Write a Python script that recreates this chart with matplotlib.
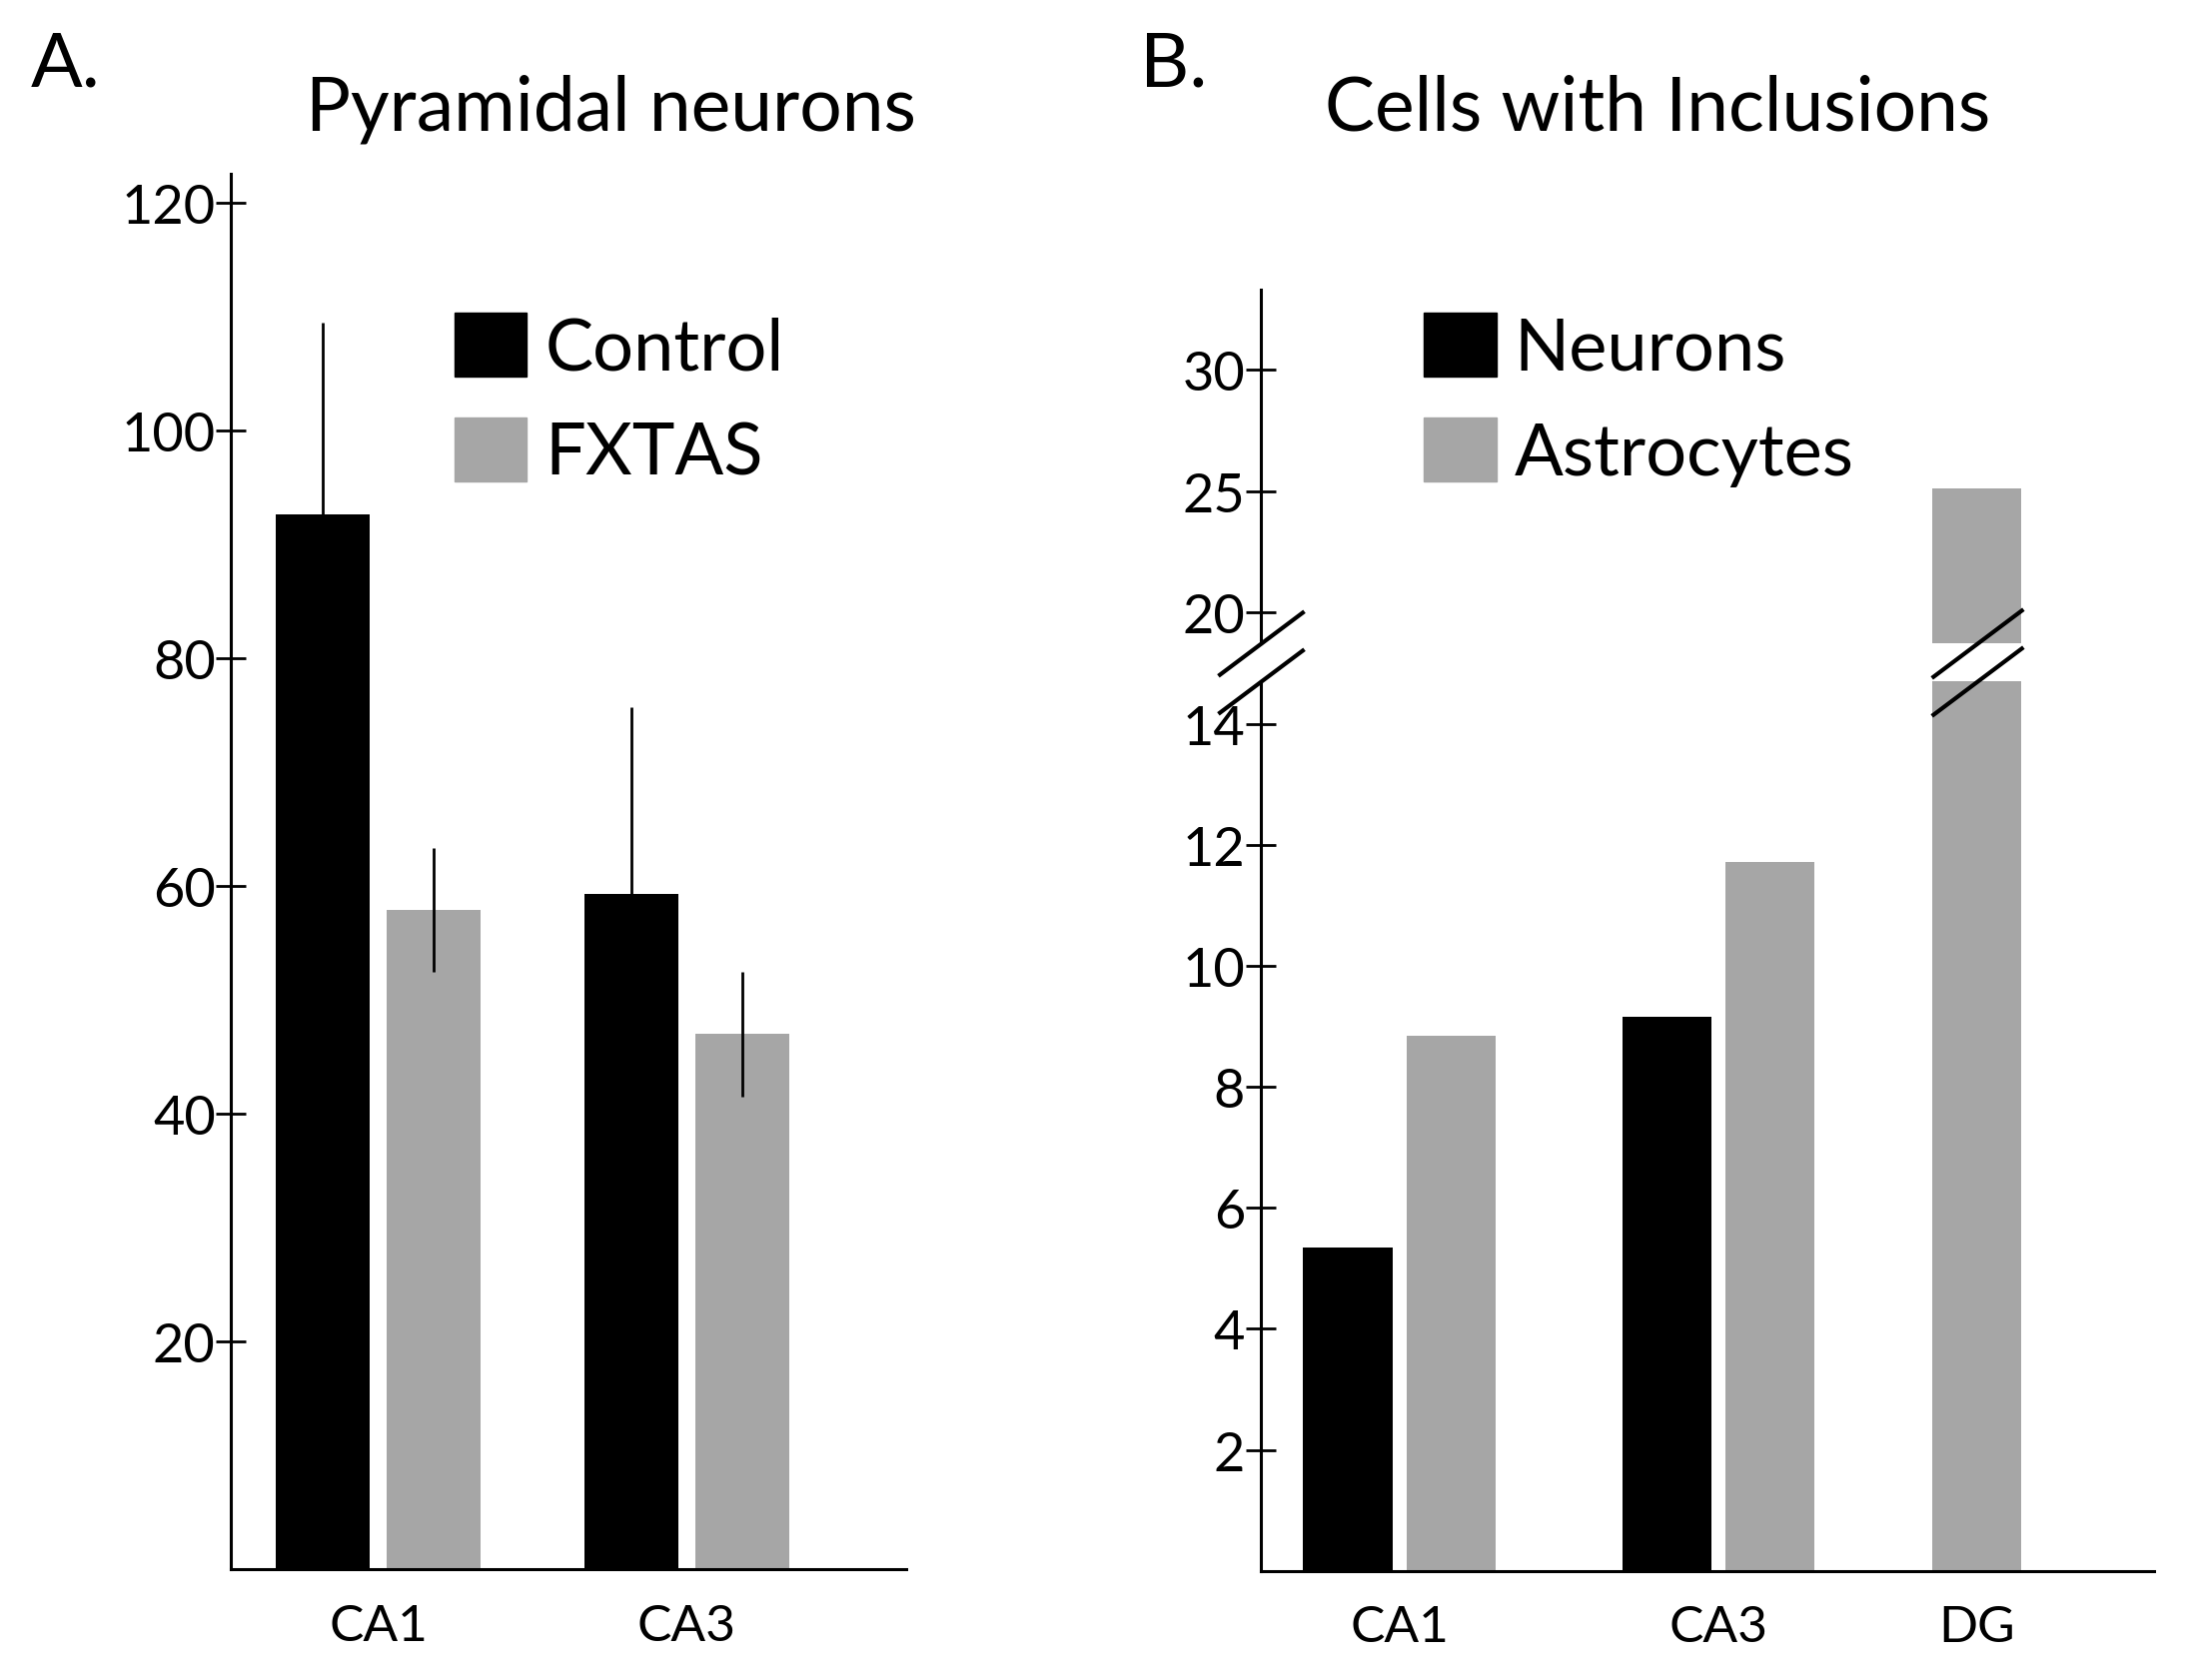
import matplotlib
matplotlib.use('Agg')
import matplotlib.pyplot as plt
from matplotlib.patches import Patch
import numpy as np

# panel A - pyramidal neuron counts
regions_a = ['CA1', 'CA3']
control = [92.6, 59.3]
control_err = [16.8, 16.4]
fxtas = [57.9, 47.0]
fxtas_err = [5.4, 5.5]

# panel B - cells with inclusions
regions_b = ['CA1', 'CA3', 'DG']
neurons = [5.35, 9.15]
astrocytes = [8.85, 11.72, 25.1]

BLACK = '#000000'
GRAY = '#a6a6a6'

# reference measured on a ~1567 x 1202 frame
W, H = 1567, 1202
def fx(x):
    return x / W
def fy(y):
    return 1 - y / H

plt.rcParams['font.family'] = ['Lato', 'DejaVu Sans']

fig = plt.figure(figsize=(21.94, 16.83), dpi=100)

def style_axis(ax):
    for s in ['top', 'right']:
        ax.spines[s].set_visible(False)
    for s in ['left', 'bottom']:
        ax.spines[s].set_linewidth(2.2)
    ax.tick_params(axis='y', direction='inout', length=22, width=2, pad=0, labelsize=39)
    ax.tick_params(axis='x', length=0, pad=24, labelsize=37)

# ---------------- Panel A ----------------
ax_a = fig.add_axes([fx(165), fy(1123), fx(648) - fx(165), fy(125) - fy(1123)])
x = np.arange(len(regions_a))
w = 0.304
off = 0.179
ax_a.bar(x - off, control, w, color=BLACK, label='Control', zorder=2)
ax_a.bar(x + off, fxtas, w, color=GRAY, label='FXTAS', zorder=2)
ax_a.errorbar(x - off, control, yerr=control_err, fmt='none', ecolor=BLACK, elinewidth=2, capsize=0, zorder=3)
ax_a.errorbar(x + off, fxtas, yerr=fxtas_err, fmt='none', ecolor=BLACK, elinewidth=2, capsize=0, zorder=3)
ax_a.set_xlim(-0.478, 1.712)
ax_a.set_ylim(0, 122.5)
ax_a.set_yticks([20, 40, 60, 80, 100, 120])
ax_a.set_xticks(x)
ax_a.set_xticklabels(regions_a)
style_axis(ax_a)

legend_kw = dict(loc='upper left', bbox_transform=fig.transFigure, frameon=False, fontsize=52,
                 handlelength=1.0, handleheight=1.0, handletextpad=0.25, labelspacing=0.5,
                 borderpad=0, borderaxespad=0)
ax_a.legend(handles=[Patch(color=BLACK, label='Control'), Patch(color=GRAY, label='FXTAS')],
            bbox_to_anchor=(fx(325), fy(224)), **legend_kw)

# ---------------- Panel B (broken axis) ----------------
xb = [0, 1, 1.81]
wb = 0.28
offb = 0.162
bw = fx(1540) - fx(901)
ax_lo = fig.add_axes([fx(901), fy(1124), bw, fy(488) - fy(1124)])
ax_hi = fig.add_axes([fx(901), fy(461), bw, fy(208) - fy(461)])

astro_x = [xb[0] + offb, xb[1] + offb, xb[2]]
neur_x = [xb[0] - offb, xb[1] - offb]
for ax in (ax_lo, ax_hi):
    ax.bar(neur_x, neurons, wb, color=BLACK, zorder=2)
    ax.bar(astro_x, astrocytes, wb, color=GRAY, zorder=2)
    ax.set_xlim(-0.436, 2.366)
    style_axis(ax)

ax_lo.set_ylim(0, 14.7)
ax_lo.set_yticks([2, 4, 6, 8, 10, 12, 14])
ax_lo.set_xticks(xb)
ax_lo.set_xticklabels(regions_b)

ax_hi.set_ylim(18.7, 33.3)
ax_hi.set_yticks([20, 25, 30])
ax_hi.spines['bottom'].set_visible(False)
ax_hi.set_xticks([])

# break marks
slash = [(-1, -0.75), (1, 0.75)]
ax_hi.plot([0], [0], marker=slash, ms=62, mew=3, color=BLACK, transform=ax_hi.transAxes, clip_on=False, zorder=5)
ax_lo.plot([0], [1], marker=slash, ms=62, mew=3, color=BLACK, transform=ax_lo.transAxes, clip_on=False, zorder=5)
ax_hi.plot([xb[2]], [0], marker=slash, ms=66, mew=3, color=BLACK, transform=ax_hi.get_xaxis_transform(), clip_on=False, zorder=5)
ax_lo.plot([xb[2]], [1], marker=slash, ms=66, mew=3, color=BLACK, transform=ax_lo.get_xaxis_transform(), clip_on=False, zorder=5)

ax_hi.legend(handles=[Patch(color=BLACK, label='Neurons'), Patch(color=GRAY, label='Astrocytes')],
             bbox_to_anchor=(fx(1018), fy(224)), **legend_kw)

# titles and panel letters
fig.text(fx(437), fy(93), 'Pyramidal neurons', ha='center', va='baseline', fontsize=54)
fig.text(fx(1185), fy(93), 'Cells with Inclusions', ha='center', va='baseline', fontsize=54)
fig.text(fx(22), fy(62), 'A.', ha='left', va='baseline', fontsize=55)
fig.text(fx(815), fy(62), 'B.', ha='left', va='baseline', fontsize=55)

fig.savefig('out.png', dpi=100)
